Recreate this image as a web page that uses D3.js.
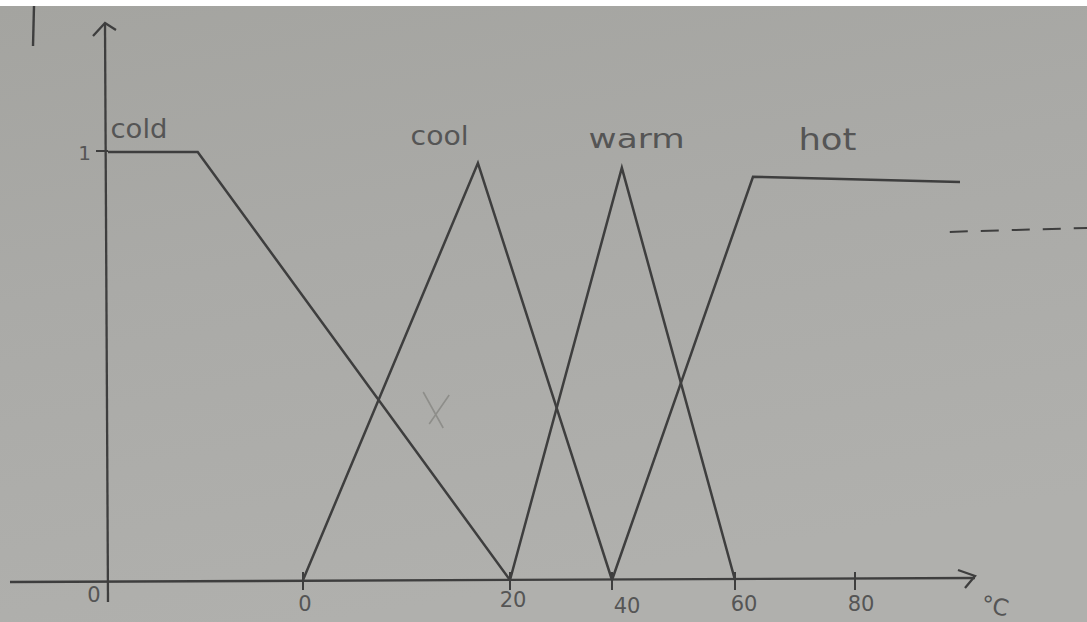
<!DOCTYPE html>
<html>
<head>
<meta charset="utf-8">
<script src="https://cdn.jsdelivr.net/npm/d3@7"></script>
<style>
  html, body { margin: 0; padding: 0; background: #ffffff; }
  svg { display: block; }
</style>
</head>
<body>
<script>
// Fuzzy membership sets for temperature (x in tick-index units, y = membership degree)
const tickLabels = ["0", "0", "20", "40", "60", "80"];
const tickIndex = [0, 1, 2, 3, 4, 5];
const setNames = ["cold", "cool", "warm", "hot"];
const coldX = [0, 0.46, 2];
const coldY = [1, 1, 0];
const coolX = [1, 1.845, 3];
const coolY = [0, 0.974, 0];
const warmX = [2, 3.08, 4];
const warmY = [0, 0.963, 0];
const hotX = [3, 4.15, 5.875];
const hotY = [0, 0.942, 0.93];
const unitLabel = "°C";
const yTickLabel = "1";

const W = 1087, H = 622;
const svg = d3.select("body").append("svg").attr("width", W).attr("height", H);

// paper background
const defs = svg.append("defs");
const grad = defs.append("linearGradient").attr("id", "paper").attr("x1", 0).attr("y1", 0).attr("x2", 0.3).attr("y2", 1);
grad.append("stop").attr("offset", "0%").attr("stop-color", "#a4a4a0");
grad.append("stop").attr("offset", "45%").attr("stop-color", "#aaaaa7");
grad.append("stop").attr("offset", "100%").attr("stop-color", "#b0b0ad");
svg.append("rect").attr("x", 0).attr("y", 0).attr("width", W).attr("height", H).attr("fill", "#ffffff");
svg.append("rect").attr("x", 0).attr("y", 6).attr("width", W).attr("height", H - 6).attr("fill", "url(#paper)");

// piecewise scale: hand-spaced ticks
const x = d3.scaleLinear().domain(tickIndex).range([108, 303, 510, 612, 735, 855]);
const y = d3.scaleLinear().domain([0, 1]).range([580, 152]);

const ink = "#3e3e3e";
const pencil = "#555555";

const line = d3.line().x(d => x(d[0])).y(d => y(d[1]));

// axes
const g = svg.append("g");
g.append("line").attr("x1", 10).attr("x2", 975).attr("y1", y(0) + 2).attr("y2", y(0) - 2)
  .attr("stroke", ink).attr("stroke-width", 2.3);
g.append("path").attr("d", `M958,570 L975,576 L965,588`).attr("fill", "none").attr("stroke", ink).attr("stroke-width", 2.3);
g.append("line").attr("x1", x(0)).attr("x2", x(0) - 3).attr("y1", 602).attr("y2", 24)
  .attr("stroke", ink).attr("stroke-width", 2.3);
g.append("path").attr("d", `M93,36 L${x(0) - 3},23 L116,30`).attr("fill", "none").attr("stroke", ink).attr("stroke-width", 2.3);

// x ticks and labels
tickIndex.slice(1).forEach(i => {
  g.append("line").attr("x1", x(i)).attr("x2", x(i)).attr("y1", y(0) - 8).attr("y2", y(0) + 10)
    .attr("stroke", ink).attr("stroke-width", 2);
});
const labelOffsets = [[-14, 22], [2, 31], [3, 27], [15, 33], [9, 31], [6, 31]];
tickLabels.forEach((t, i) => {
  g.append("text").attr("x", x(tickIndex[i]) + labelOffsets[i][0]).attr("y", y(0) + labelOffsets[i][1])
    .attr("text-anchor", "middle").attr("font-family", "DejaVu Sans").attr("font-size", 21)
    .attr("fill", pencil).text(t);
});
g.append("text").attr("x", 995).attr("y", 614).attr("text-anchor", "middle")
  .attr("font-family", "DejaVu Sans").attr("font-size", 23).attr("fill", pencil)
  .attr("transform", "rotate(12,995,606)").text(unitLabel);

// y tick "1"
g.append("line").attr("x1", x(0) - 12).attr("x2", x(0)).attr("y1", y(1) - 1).attr("y2", y(1) - 1)
  .attr("stroke", ink).attr("stroke-width", 2);
g.append("text").attr("x", x(0) - 17).attr("y", y(1) + 8).attr("text-anchor", "end")
  .attr("font-family", "DejaVu Sans").attr("font-size", 20).attr("fill", pencil).text(yTickLabel);

// membership curves
const series = [[coldX, coldY], [coolX, coolY], [warmX, warmY], [hotX, hotY]];
series.forEach(([xs, ys]) => {
  svg.append("path").datum(xs.map((v, i) => [v, ys[i]])).attr("d", line)
    .attr("fill", "none").attr("stroke", ink).attr("stroke-width", 2.5).attr("stroke-linejoin", "miter");
});

// set names
const namePos = [[x(0) + 31, y(1) - 14, 26, 57], [x(1.66), y(1) - 7, 26, 58], [x(3.2), y(1) - 4, 26, 96], [x(4.77), y(1) - 2, 30, 58]];
setNames.forEach((n, i) => {
  svg.append("text").attr("x", namePos[i][0]).attr("y", namePos[i][1]).attr("text-anchor", "middle")
    .attr("font-family", "DejaVu Sans").attr("font-size", namePos[i][2]).attr("fill", pencil)
    .attr("textLength", namePos[i][3]).attr("lengthAdjust", "spacingAndGlyphs").text(n);
});

// dashed continuation at the right edge
svg.append("line").attr("x1", x(5.79)).attr("x2", W).attr("y1", y(0.818) + 2).attr("y2", y(0.818) - 2)
  .attr("stroke", ink).attr("stroke-width", 2).attr("stroke-dasharray", "18,13");

// faint pencil cross and stray stroke
svg.append("path").attr("d", `M${x(1.6) - 4},392 L${x(1.6) + 16},428 M${x(1.6) + 22},395 L${x(1.6) + 2},424`)
  .attr("stroke", "#8e8e8a").attr("stroke-width", 1.6).attr("fill", "none");
svg.append("line").attr("x1", 34).attr("x2", 33).attr("y1", 6).attr("y2", 46)
  .attr("stroke", ink).attr("stroke-width", 2.4);
</script>
</body>
</html>
